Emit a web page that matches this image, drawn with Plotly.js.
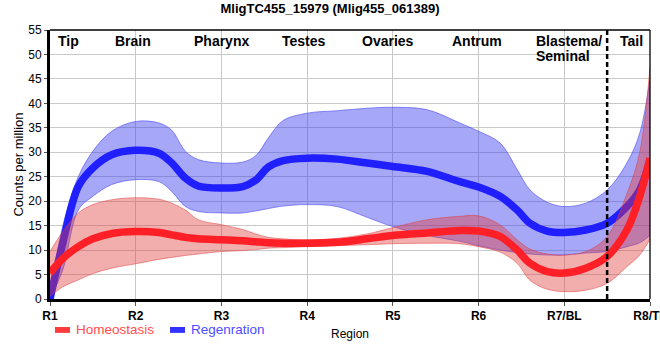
<!DOCTYPE html>
<html>
<head>
<meta charset="utf-8">
<script src="https://cdn.plot.ly/plotly-3.0.1.min.js"></script>
<style>
  html, body { margin: 0; padding: 0; background: #fff; }
  #chart { width: 660px; height: 360px; }
</style>
</head>
<body>
<div id="chart"></div>
<script>
// ---- data ----
const categories = ['R1', 'R2', 'R3', 'R4', 'R5', 'R6', 'R7/BL', 'R8/TL'];
const categoryPos = [0, 1, 2, 3, 4, 5, 6, 7];

// sampling positions along the region axis (0 = R1 ... 7 = R8)
const xPos = [0, 0.15, 0.33, 0.5, 0.72, 1, 1.27, 1.42, 1.58, 1.73, 2, 2.25, 2.4, 2.55, 2.72, 3,
              3.35, 3.7, 4, 4.4, 4.78, 5, 5.25, 5.45, 5.6, 5.8, 6, 6.25, 6.5, 6.73, 6.88, 7];

const regenMean  = [0, 11.5, 23, 26.8, 29.5, 30.4, 29.8, 27.8, 24.7, 23.1, 22.7, 23, 24.3, 27, 28.3, 28.8,
                    28.6, 27.8, 27.1, 26.1, 24, 22.9, 21, 18.2, 15.5, 13.9, 13.6, 14.1, 15.5, 18.9, 22.3, 28.4];
const regenUpper = [0.3, 15, 25, 30.2, 34.3, 36.3, 36, 34.5, 30.2, 28.5, 27.8, 28, 29.3, 33, 36.5, 38,
                    38.5, 39, 39.2, 38.7, 36, 34.3, 31.9, 26.5, 22.3, 19.8, 18.9, 19.6, 22.3, 27.8, 33.9, 45];
const regenLower = [0, 6, 18.2, 21, 23.4, 24.4, 24, 22, 18.9, 17.9, 17.6, 17.6, 18, 18.5, 19, 19.3,
                    18.9, 16.7, 14.8, 13, 11.8, 10.9, 10, 9.5, 9.2, 9, 9, 9.4, 9.7, 10.7, 11.5, 13];

const homeoMean  = [5.3, 8.3, 10.7, 12.3, 13.4, 13.8, 13.6, 13.1, 12.6, 12.3, 12.1, 11.9, 11.7, 11.5, 11.4, 11.4,
                    11.6, 12.3, 13, 13.5, 14, 13.9, 12.8, 10, 7.3, 5.6, 5.3, 6.3, 8.7, 14.1, 21, 28.8];
const homeoUpper = [9.7, 13.8, 17.6, 19.3, 20.3, 20.7, 20.4, 19.6, 18.2, 16.2, 15.2, 14.2, 13.3, 12.6, 12.3, 12.1,
                    12.4, 13.3, 14.6, 16.2, 16.9, 17, 15.2, 12.1, 10.2, 9.2, 9, 9.7, 12.8, 21.5, 30, 47.5];
const homeoLower = [0.6, 2.5, 3.9, 5.2, 6.3, 7.2, 8.1, 8.5, 8.9, 9.2, 9.7, 9.9, 10.1, 10.4, 10.5, 10.7,
                    10.9, 11.1, 11.3, 11.4, 11.3, 10.7, 9.6, 7.3, 3.8, 2, 1.5, 1.8, 3.2, 6.6, 9, 12.2];

const regionNames = ['Tip', 'Brain', 'Pharynx', 'Testes', 'Ovaries', 'Antrum', 'Blastema/', 'Seminal', 'Tail'];
const regionPos   = [0.22, 0.97, 2.0, 2.96, 3.94, 4.98, 5.647, 5.647, 6.78];
const tailBoundary = 6.5;

const seriesNames = ['Homeostasis', 'Regenration'];

// ---- styles ----
const FONT = 'Liberation Sans, Arial, sans-serif';
const BLUE = '#1f1fff', RED = '#ff1f26';
const BLUE_FILL = 'rgba(60,60,240,0.45)', RED_FILL = 'rgba(225,60,60,0.42)';
const BLUE_EDGE = 'rgba(60,60,240,0.55)', RED_EDGE = 'rgba(225,60,60,0.5)';

function band(x, y, edge, fill, fillcolor) {
  return { x: x, y: y, type: 'scatter', mode: 'lines', hoverinfo: 'skip', showlegend: false,
           line: { color: edge, width: 1, shape: 'spline', smoothing: 1 },
           fill: fill, fillcolor: fillcolor };
}

const traces = [
  band(xPos, regenLower, BLUE_EDGE, 'none'),
  band(xPos, regenUpper, BLUE_EDGE, 'tonexty', BLUE_FILL),
  { x: xPos, y: regenMean, type: 'scatter', mode: 'lines', name: seriesNames[1], showlegend: false,
    line: { color: BLUE, width: 7.5, shape: 'spline', smoothing: 1 } },
  band(xPos, homeoLower, RED_EDGE, 'none'),
  band(xPos, homeoUpper, RED_EDGE, 'tonexty', RED_FILL),
  { x: xPos, y: homeoMean, type: 'scatter', mode: 'lines', name: seriesNames[0], showlegend: false,
    line: { color: RED, width: 7.5, shape: 'spline', smoothing: 1 } }
];

const annotations = regionNames.map((name, i) => ({
  x: regionPos[i], xref: 'x', y: 1, yref: 'paper',
  yanchor: 'top', xanchor: (name === 'Blastema/' || name === 'Seminal') ? 'left' : 'center',
  yshift: name === 'Seminal' ? -16 : -1,
  text: '<b>' + name + '</b>', showarrow: false,
  font: { family: FONT, size: 14, color: '#000' }
}));

// custom legend (text + swatches)
annotations.push(
  { x: (74 - 50) / 600, xref: 'paper', y: -0.115, yref: 'paper', xanchor: 'left', yanchor: 'middle',
    text: seriesNames[0], showarrow: false, font: { family: FONT, size: 13.5, color: '#ff4d4d' } },
  { x: (189 - 50) / 600, xref: 'paper', y: -0.115, yref: 'paper', xanchor: 'left', yanchor: 'middle',
    text: seriesNames[1], showarrow: false, font: { family: FONT, size: 13.5, color: '#4d4dff' } }
);

const shapes = [
  { type: 'line', xref: 'x', yref: 'paper', x0: tailBoundary, x1: tailBoundary, y0: 0, y1: 1,
    line: { color: '#000', width: 2.5, dash: '5px,3px' }, layer: 'above' },
  { type: 'line', xref: 'paper', yref: 'paper', x0: 0, x1: 1, y0: 1, y1: 1,
    line: { color: '#000', width: 1.3 }, layer: 'above' },
  { type: 'line', xref: 'paper', yref: 'paper', x0: 1, x1: 1, y0: 0, y1: 1,
    line: { color: '#000', width: 1.3 }, layer: 'above' },
  { type: 'rect', xref: 'paper', yref: 'paper', x0: (55 - 50) / 600, x1: (70 - 50) / 600,
    y0: -0.104, y1: -0.126, fillcolor: '#ff3b3b', line: { width: 0 } },
  { type: 'rect', xref: 'paper', yref: 'paper', x0: (170 - 50) / 600, x1: (185 - 50) / 600,
    y0: -0.104, y1: -0.126, fillcolor: '#3333ff', line: { width: 0 } }
];

const layout = {
  width: 660, height: 360,
  margin: { l: 50, r: 10, t: 30, b: 61 },
  paper_bgcolor: '#fff', plot_bgcolor: '#fff',
  showlegend: false,
  title: { text: '<b>MligTC455_15979 (Mlig455_061389)</b>', x: 0.5, xref: 'container',
           y: 0.976, yref: 'container', yanchor: 'middle',
           font: { family: FONT, size: 13, color: '#000' } },
  xaxis: {
    range: [0, 7], tickmode: 'array', tickvals: categoryPos,
    ticktext: categories.map(c => '<b>' + c + '</b>'),
    tickfont: { family: FONT, size: 12, color: '#000' },
    ticklabeloverflow: 'allow',
    showgrid: true, gridcolor: '#c8c8c8', gridwidth: 1, zeroline: false,
    showline: true, linecolor: '#000', linewidth: 3,
    ticks: 'outside', ticklen: 4, tickcolor: '#555',
    title: { text: 'Region', standoff: 8, font: { family: FONT, size: 12, color: '#000' } },
    automargin: false, fixedrange: true
  },
  yaxis: {
    range: [0, 55], dtick: 5, tick0: 0,
    tickfont: { family: FONT, size: 12, color: '#000' },
    showgrid: true, gridcolor: '#c8c8c8', gridwidth: 1, zeroline: false,
    showline: true, linecolor: '#000', linewidth: 3,
    ticks: 'outside', ticklen: 3, tickcolor: '#555',
    title: { text: 'Counts per million', standoff: 2, font: { family: FONT, size: 13, color: '#000' } },
    automargin: false, fixedrange: true
  },
  annotations: annotations,
  shapes: shapes
};

Plotly.newPlot('chart', traces, layout, { displayModeBar: false, staticPlot: true });
</script>
</body>
</html>
